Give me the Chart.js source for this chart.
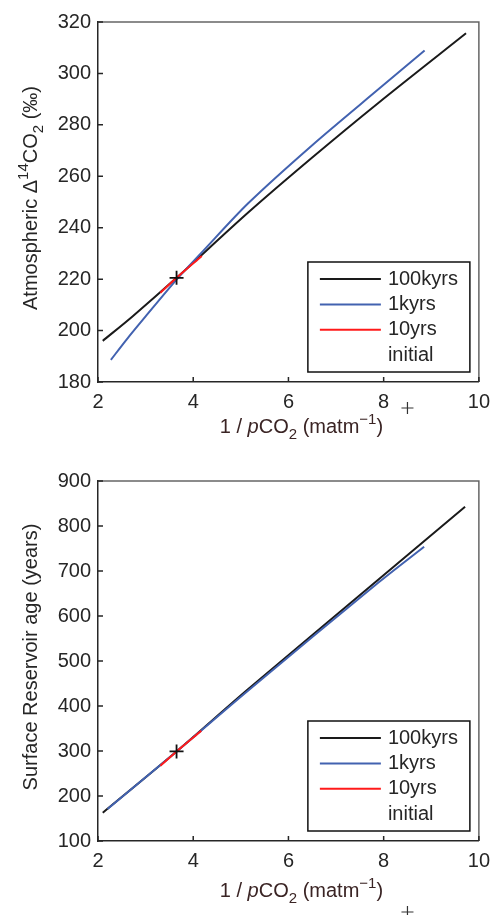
<!DOCTYPE html>
<html lang="en">
<head>
<meta charset="UTF-8">
<title>Atmospheric D14CO2 and surface reservoir age vs 1/pCO2</title>
<script src="https://cdn.jsdelivr.net/npm/chart.js"></script>
<style>
  body { margin: 0; background: #fff; }
  .panel { position: absolute; left: 0; width: 498px; }
  #top { top: 0; height: 455px; }
  #bottom { top: 455px; height: 460px; }
</style>
</head>
<body>
<div class="panel" id="top"><canvas id="c1"></canvas></div>
<div class="panel" id="bottom"><canvas id="c2"></canvas></div>
<script>
// axis ticks
const xTicks = [2, 4, 6, 8, 10];
const dc14Ticks = [180, 200, 220, 240, 260, 280, 300, 320];
const ageTicks = [100, 200, 300, 400, 500, 600, 700, 800, 900];

// top panel: atmospheric D14CO2 (permil) against 1/pCO2
const dc14X100k = [2.1, 2.73, 3.65, 5.16, 6.5, 7.92, 9.73];
const dc14Y100k = [196, 205.6, 220.5, 246, 267.3, 289, 315.6];
const dc14X1k = [2.27, 2.6, 3.0, 3.65, 4.2, 5.16, 6.5, 7.92, 8.86];
const dc14Y1k = [188.6, 196.5, 205.5, 219.8, 230.8, 249.6, 272.1, 294.3, 308.9];
const dc14X10 = [3.31, 3.65, 4.18];
const dc14Y10 = [214.7, 220.5, 229];

// bottom panel: surface reservoir age (years)
const ageX100k = [2.1, 3.65, 5.15, 7.91, 9.71];
const ageY100k = [163, 299, 437, 683, 843];
const ageX1k = [2.2, 3.65, 5.15, 7.91, 8.85];
const ageY1k = [171, 299, 434, 676, 754];
const ageX10 = [3.31, 3.65, 4.17];
const ageY10 = [267, 299, 345];

// initial state
const initX = 3.65;
const initDc14 = 220.5;
const initAge = 299;

const labels = ['100kyrs', '1kyrs', '10yrs', 'initial'];
const colors = ['#1a1a1a', '#4262b0', '#ff1a1a', '#111111'];

// axis titles with italic / sub / superscript parts
const xTitleParts = [{ t: '1 / ' }, { t: 'p', it: true }, { t: 'CO' }, { t: '2', sub: true },
  { t: ' (matm' }, { t: '−1', sup: true }, { t: ')' }];
const dc14TitleParts = [{ t: 'Atmospheric Δ' }, { t: '14', sup: true }, { t: 'CO' }, { t: '2', sub: true },
  { t: ' (‰)' }];
const ageTitleParts = [{ t: 'Surface Reservoir age (years)' }];

const FONT = "'Liberation Sans', Arial, sans-serif";
Chart.defaults.font.family = FONT;
Chart.defaults.font.size = 20;

const pts = (xs, ys) => xs.map((x, i) => ({ x: x, y: ys[i] }));

function lineSet(i, data) {
  return {
    label: labels[i], data: data, showLine: true, borderColor: colors[i],
    borderWidth: 2, pointRadius: 0, tension: 0.3, order: 4 - i
  };
}

function partFont(p) {
  return (p.it ? 'italic ' : '') + ((p.sub || p.sup) ? '15px ' : '20px ') + FONT;
}

function drawRich(ctx, parts, cx, baseY) {
  let w = 0;
  parts.forEach(p => { ctx.font = partFont(p); w += ctx.measureText(p.t).width; });
  let x = cx - w / 2;
  ctx.textAlign = 'left';
  ctx.textBaseline = 'alphabetic';
  parts.forEach(p => {
    ctx.font = partFont(p);
    const dy = p.sup ? -9 : (p.sub ? 6 : 0);
    ctx.fillText(p.t, x, baseY + dy);
    x += ctx.measureText(p.t).width;
  });
}

// box, inward ticks, axis titles, inset legend
const matlabAxes = {
  id: 'matlabAxes',
  afterDraw(chart, args, opts) {
    const ctx = chart.ctx;
    const a = chart.chartArea;
    const xs = chart.scales.x, ys = chart.scales.y;
    ctx.save();
    ctx.lineWidth = 1.5;
    ctx.strokeStyle = '#666';
    ctx.beginPath();
    ctx.moveTo(a.left, a.top); ctx.lineTo(a.right, a.top); ctx.lineTo(a.right, a.bottom);
    ctx.stroke();
    ctx.strokeStyle = '#262626';
    ctx.beginPath();
    xs.ticks.forEach(t => {
      const px = xs.getPixelForValue(t.value);
      ctx.moveTo(px, a.bottom); ctx.lineTo(px, a.bottom - 5);
    });
    ys.ticks.forEach(t => {
      const py = ys.getPixelForValue(t.value);
      ctx.moveTo(a.left, py); ctx.lineTo(a.left + 5, py);
    });
    ctx.stroke();

    // axis titles
    ctx.fillStyle = '#3a2424';
    drawRich(ctx, opts.xTitle, (a.left + a.right) / 2 + 13, a.bottom + opts.xTitleDy);
    ctx.save();
    ctx.fillStyle = '#262626';
    ctx.translate(a.left - 61, (a.top + a.bottom) / 2 - 4);
    ctx.rotate(-Math.PI / 2);
    drawRich(ctx, opts.yTitle, 0, 0);
    ctx.restore();

    // legend
    const bx = a.right - 171, by = a.bottom - 120, bw = 162, bh = 110;
    ctx.fillStyle = '#fff';
    ctx.fillRect(bx, by, bw, bh);
    ctx.lineWidth = 1.5;
    ctx.strokeStyle = '#111';
    ctx.strokeRect(bx, by, bw, bh);
    chart.data.datasets.forEach((ds, i) => {
      const ry = by + 17 + i * 25.4;
      if (ds.showLine) {
        ctx.strokeStyle = ds.borderColor;
        ctx.lineWidth = 2;
        ctx.beginPath();
        ctx.moveTo(bx + 12, ry); ctx.lineTo(bx + 73, ry);
        ctx.stroke();
      }
      ctx.fillStyle = '#262626';
      ctx.font = '20px ' + FONT;
      ctx.textBaseline = 'middle';
      ctx.textAlign = 'left';
      ctx.fillText(ds.label, bx + 80, ry);
    });

    // the initial marker that ended up outside the legend
    const sx = xs.getPixelForValue(opts.strayX), sy = a.bottom + opts.strayDy;
    ctx.strokeStyle = '#333';
    ctx.lineWidth = 1.2;
    ctx.beginPath();
    ctx.moveTo(sx - 6, sy); ctx.lineTo(sx + 6, sy);
    ctx.moveTo(sx, sy - 6); ctx.lineTo(sx, sy + 6);
    ctx.stroke();
    ctx.restore();
  }
};

function panel(id, sets, yTicks, yTitle, lay) {
  return new Chart(document.getElementById(id), {
    type: 'scatter',
    data: { datasets: sets },
    options: {
      responsive: true,
      maintainAspectRatio: false,
      animation: false,
      layout: { padding: { top: lay.top, right: lay.right, left: 0, bottom: 0 } },
      plugins: {
        legend: { display: false },
        tooltip: { enabled: false },
        matlabAxes: { strayX: 8.5, strayDy: lay.strayDy, xTitle: xTitleParts, yTitle: yTitle, xTitleDy: lay.xTitleDy }
      },
      scales: {
        x: {
          type: 'linear', min: 2, max: 10,
          afterBuildTicks: s => { s.ticks = xTicks.map(v => ({ value: v })); },
          afterFit: s => { s.height = lay.xHeight; },
          grid: { display: false, drawTicks: false },
          border: { color: '#262626', width: 1.5 },
          ticks: { color: '#262626', padding: 8, maxRotation: 0 }
        },
        y: {
          type: 'linear', min: yTicks[0], max: yTicks[yTicks.length - 1],
          afterBuildTicks: s => { s.ticks = yTicks.map(v => ({ value: v })); },
          afterFit: s => { s.width = 98; },
          grid: { display: false, drawTicks: false },
          border: { color: '#262626', width: 1.5 },
          ticks: { color: '#262626', padding: 7 }
        }
      }
    },
    plugins: [matlabAxes]
  });
}

panel('c1', [
  lineSet(0, pts(dc14X100k, dc14Y100k)),
  lineSet(1, pts(dc14X1k, dc14Y1k)),
  lineSet(2, pts(dc14X10, dc14Y10)),
  { label: labels[3], data: [{ x: initX, y: initDc14 }], showLine: false, pointStyle: 'cross',
    pointRadius: 7, borderColor: colors[3], borderWidth: 1.8, order: 0 }
], dc14Ticks, dc14TitleParts, { top: 22, right: 15, xHeight: 73, xTitleDy: 51, strayDy: 26 });

panel('c2', [
  lineSet(0, pts(ageX100k, ageY100k)),
  lineSet(1, pts(ageX1k, ageY1k)),
  lineSet(2, pts(ageX10, ageY10)),
  { label: labels[3], data: [{ x: initX, y: initAge }], showLine: false, pointStyle: 'cross',
    pointRadius: 7, borderColor: colors[3], borderWidth: 1.8, order: 0 }
], ageTicks, ageTitleParts, { top: 26, right: 14, xHeight: 74, xTitleDy: 56, strayDy: 71 });
</script>
</body>
</html>
